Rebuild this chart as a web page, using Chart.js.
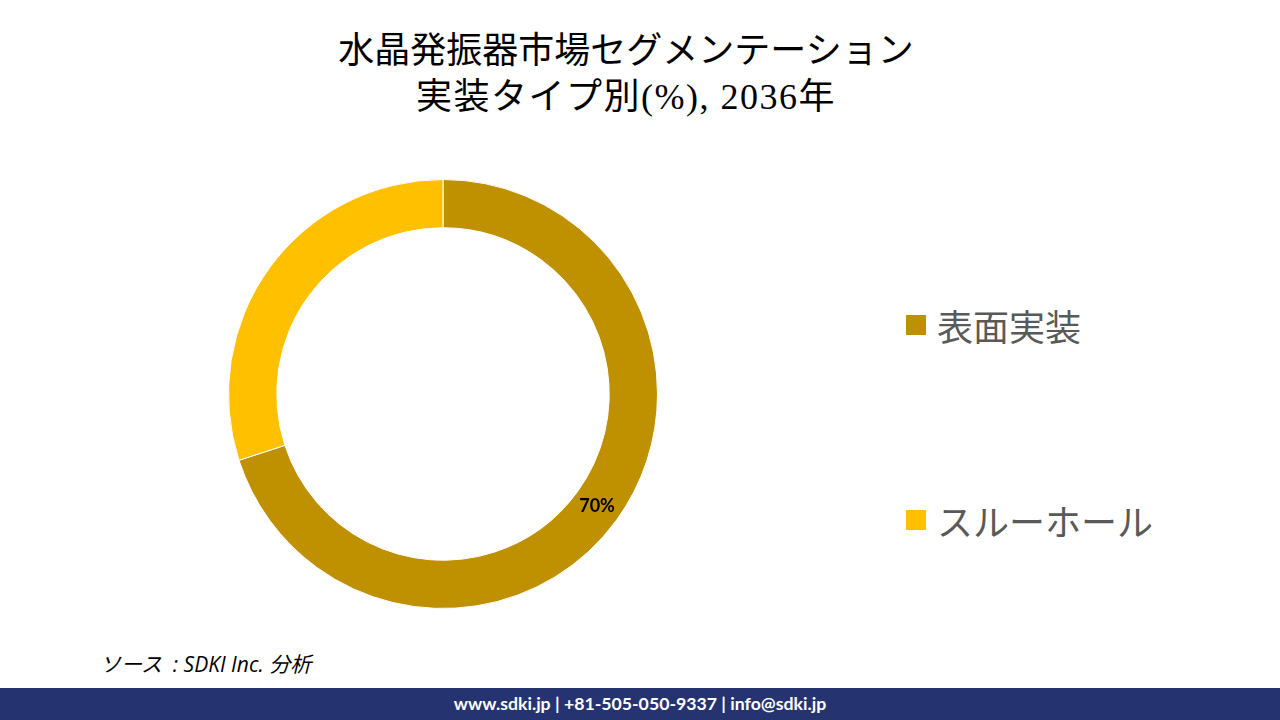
<!DOCTYPE html>
<html lang="ja">
<head>
<meta charset="utf-8">
<title>水晶発振器市場セグメンテーション</title>
<script src="https://cdn.jsdelivr.net/npm/chart.js@4.4.1/dist/chart.umd.min.js"></script>
<style>
  html, body { margin: 0; padding: 0; }
  body { width: 1280px; height: 720px; position: relative; overflow: hidden; background: #fff; font-family: "Noto Sans CJK JP", sans-serif; }
  .title { position: absolute; left: -14px; width: 1280px; top: 28px; text-align: center; font-family: "Liberation Serif", "Noto Sans CJK JP", serif; font-size: 36px; line-height: 46px; color: #000; }
  .title .l2 { letter-spacing: 1.5px; }
  .chart-box { position: absolute; left: 228px; top: 179px; width: 430px; height: 430px; }
  .legend { position: absolute; left: 906px; top: 0; }
  .legend-item { position: absolute; left: 0; white-space: nowrap; display: flex; align-items: center; height: 40px; }
  .legend-item .sw { width: 20px; height: 20px; margin-right: 11px; }
  .legend-item span { font-size: 36px; color: #595959; font-family: "Noto Sans CJK JP", sans-serif; font-weight: 400; }
  .source { position: absolute; left: 100px; top: 648px; font-size: 21px; font-style: italic; color: #000; font-family: "Open Sans", "Noto Sans CJK JP", sans-serif; white-space: pre; }
  .footer { position: absolute; left: 0; top: 688px; width: 1280px; height: 32px; background: #263371; color: #fff; text-align: center; font: bold 17.7px "Lato", "Open Sans", sans-serif; line-height: 32px; }
</style>
</head>
<body>
<div class="title">水晶発振器市場セグメンテーション<br><span class="l2">実装タイプ別(%), 2036年</span></div>
<div class="chart-box"><canvas id="donut"></canvas></div>
<div class="legend" id="legend"></div>
<div class="source">ソース  : SDKI Inc. 分析</div>
<div class="footer">www.sdki.jp | +81-505-050-9337 | info@sdki.jp</div>
<script>
document.addEventListener('DOMContentLoaded', () => {

    // data
    const categories = ['表面実装', 'スルーホール'];
    const shares = [70, 30];
    const showLabel = [true, false];
    const colors = ['#BF9000', '#FFC000'];
    const legendTops = [305, 500];

    // html legend
    const legend = document.getElementById('legend');
    categories.forEach((name, i) => {
        const item = document.createElement('div');
        item.className = 'legend-item';
        item.style.top = legendTops[i] + 'px';
        item.innerHTML = '<div class="sw" style="background:' + colors[i] + '"></div><span>' + name + '</span>';
        legend.appendChild(item);
    });

    // draws the percent text on the slices
    const sliceLabels = {
        id: 'sliceLabels',
        afterDatasetsDraw(chart) {
            const ctx = chart.ctx;
            const meta = chart.getDatasetMeta(0);
            ctx.save();
            ctx.font = "bold 18px Lato, 'Open Sans', sans-serif";
            ctx.fillStyle = '#000';
            ctx.textAlign = 'center';
            ctx.textBaseline = 'middle';
            meta.data.forEach((arc, i) => {
                if (!showLabel[i]) return;
                const p = arc.tooltipPosition();
                ctx.fillText(shares[i] + '%', p.x, p.y);
            });
            ctx.restore();
        }
    };

    new Chart(document.getElementById('donut'), {
        type: 'doughnut',
        data: {
            labels: categories,
            datasets: [{
                data: shares,
                backgroundColor: colors,
                borderColor: '#fff',
                borderWidth: 1,
                hoverOffset: 0
            }]
        },
        options: {
            responsive: true,
            maintainAspectRatio: false,
            animation: false,
            cutout: '77.5%',
            layout: { padding: 0 },
            plugins: {
                legend: { display: false },
                tooltip: { enabled: false }
            }
        },
        plugins: [sliceLabels]
    });
});
</script>
</body>
</html>
